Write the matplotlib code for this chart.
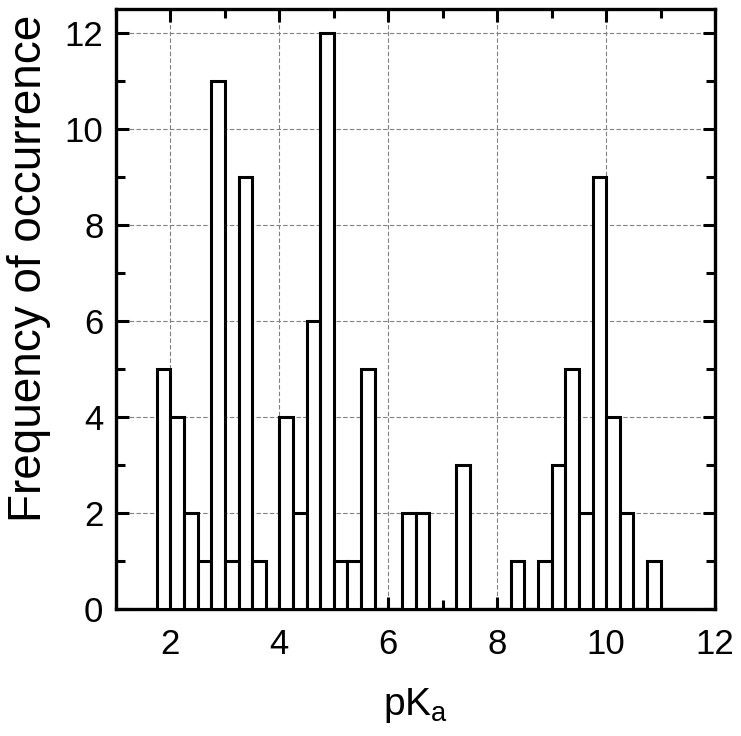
import matplotlib
matplotlib.use("Agg")
import matplotlib.pyplot as plt
from matplotlib.ticker import MultipleLocator

# =========================
# 字体
# =========================
plt.rcParams["font.family"] = ["Liberation Sans", "DejaVu Sans"]
plt.rcParams["mathtext.fontset"] = "custom"
plt.rcParams["mathtext.rm"] = "Liberation Sans"
plt.rcParams["mathtext.it"] = "Liberation Sans"

# =========================
# 数据：直方图各箱起点 (pKa) 与频数，箱宽 0.25
# =========================
bin_start = [1.75, 2.0, 2.25, 2.5, 2.75, 3.0, 3.25, 3.5,
             4.0, 4.25, 4.5, 4.75, 5.0, 5.25, 5.5,
             6.25, 6.5, 7.25,
             8.25, 8.75, 9.0, 9.25, 9.5, 9.75, 10.0, 10.25, 10.75]
counts = [5, 4, 2, 1, 11, 1, 9, 1,
          4, 2, 6, 12, 1, 1, 5,
          2, 2, 3,
          1, 1, 3, 5, 2, 9, 4, 2, 1]
bin_width = 0.25

x_ticks = [2, 4, 6, 8, 10, 12]
y_ticks = [0, 2, 4, 6, 8, 10, 12]

# =========================
# 绘图
# =========================
fig = plt.figure(figsize=(7.41, 7.36), dpi=100)
ax = fig.add_axes([0.1565, 0.1726, 0.965 - 0.1565, 0.9878 - 0.1726])

ax.bar(
    bin_start,
    counts,
    width=bin_width,
    align="edge",
    facecolor="white",
    edgecolor="black",
    linewidth=2.2,
    zorder=3,
)

ax.set_xlim(1, 12)
ax.set_ylim(0, 12.5)
ax.set_xticks(x_ticks)
ax.set_yticks(y_ticks)
ax.xaxis.set_minor_locator(MultipleLocator(1))
ax.yaxis.set_minor_locator(MultipleLocator(1))

ax.tick_params(axis="both", which="both", direction="in",
               top=True, right=True, width=2.2, labelsize=25)
ax.tick_params(axis="both", which="major", length=9)
ax.tick_params(axis="both", which="minor", length=6.5)
ax.tick_params(axis="x", which="major", pad=14)
ax.tick_params(axis="y", which="major", pad=9)

for sp in ax.spines.values():
    sp.set_linewidth(2.4)

# 虚线网格
ax.grid(True, which="major", color="#808080", linestyle=(0, (4, 2)), linewidth=0.8)
ax.set_axisbelow(True)

ax.set_xlabel(r"$\mathregular{pK_a}$", fontsize=28, labelpad=18)
# 纵轴标题略偏上，与原图一致
ax.set_ylabel("Frequency of occurrence", fontsize=33, labelpad=10,
              y=0.568, ha="center")

fig.savefig("out.png", dpi=100, facecolor="white")
